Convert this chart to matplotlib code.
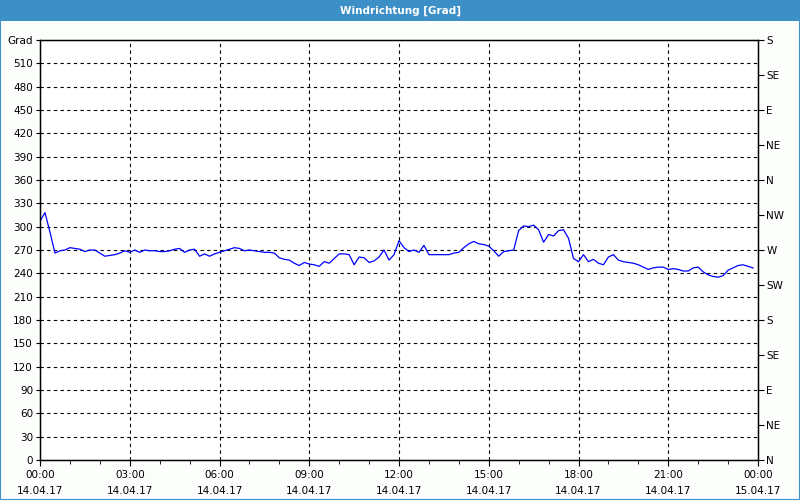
import datetime as dt
import matplotlib
matplotlib.use("Agg")
import matplotlib.pyplot as plt
import matplotlib.dates as mdates
from matplotlib.patches import Rectangle

# wind direction, one value every 10 minutes (14.04.17)
wind_dir = [
    307, 318, 293, 266, 269, 270,
    273, 272, 271, 268, 270, 270,
    266, 262, 263, 264, 266, 269,
    267, 270, 267, 270, 269, 269,
    268, 268, 269, 271, 272, 267,
    270, 271, 262, 265, 262, 265,
    267, 269, 271, 273, 272, 269,
    270, 269, 268, 267, 267, 266,
    260, 258, 257, 253, 250, 254,
    252, 251, 249, 255, 253, 259,
    265, 265, 264, 251, 261, 260,
    254, 256, 261, 270, 257, 264,
    282, 273, 268, 270, 267, 276,
    264, 264, 264, 264, 264, 266,
    267, 273, 278, 281, 278, 277,
    275, 269, 262, 268, 269, 270,
    295, 301, 300, 302, 296, 280,
    290, 288, 295, 296, 285, 259,
    255, 264, 255, 258, 253, 251,
    261, 264, 257, 255, 254, 253,
    251, 248, 245, 247, 248, 248,
    245, 246, 245, 243, 243, 247,
    248, 242, 238, 236, 235, 237,
    244, 247, 250, 251, 249, 247,
]
start = dt.datetime(2017, 4, 14, 0, 0)
times = [start + dt.timedelta(minutes=10 * i) for i in range(len(wind_dir))]

left_ticks = list(range(0, 541, 30))
left_labels = [str(v) for v in left_ticks[:-1]] + ["Grad"]
right_ticks = list(range(0, 541, 45))
right_labels = ["N", "NE", "E", "SE", "S", "SW", "W", "NW", "N", "NE", "E", "SE", "S"]

fs = 7.5
fig = plt.figure(figsize=(8, 5), dpi=100, facecolor="#fcfefc")

# title bar and frame
fig.patches.append(Rectangle((0, 0.958), 1, 0.042, transform=fig.transFigure,
                             facecolor="#3c8fc7", edgecolor="none", zorder=0))
fig.patches.append(Rectangle((0.0006, 0.001), 0.9988, 0.998, transform=fig.transFigure,
                             facecolor="none", edgecolor="#3c8fc7", lw=1.5, zorder=0))
fig.text(0.5, 0.979, "Windrichtung [Grad]", color="white", fontsize=7.5,
         fontweight="bold", ha="center", va="center")

ax = fig.add_axes([0.05, 0.08, 0.8975, 0.84])
ax.set_facecolor("white")
ax.plot(times, wind_dir, color="#0000ff", lw=0.9)

ax.set_ylim(0, 540)
ax.set_xlim(start, start + dt.timedelta(days=1))
ax.set_yticks(left_ticks)
ax.set_yticklabels(left_labels)
ax.xaxis.set_major_locator(mdates.HourLocator(interval=3))
ax.xaxis.set_minor_locator(mdates.HourLocator(interval=1))
ax.xaxis.set_major_formatter(mdates.DateFormatter("%H:%M\n%d.%m.%y"))
ax.tick_params(axis="x", which="major", length=4, labelsize=fs, pad=3)
ax.tick_params(axis="x", which="minor", length=3)
ax.tick_params(axis="y", length=3, labelsize=fs, pad=2)
for lbl in ax.get_xticklabels():
    lbl.set_linespacing(1.75)
ax.grid(True, color="black", linestyle=(0, (3, 3)), lw=0.8)
for sp in ax.spines.values():
    sp.set_color("black")
    sp.set_linewidth(1)

ax2 = ax.twinx()
ax2.set_ylim(0, 540)
ax2.set_yticks(right_ticks)
ax2.set_yticklabels(right_labels)
ax2.tick_params(axis="y", length=4, labelsize=fs, pad=2)

fig.savefig("out.png", dpi=100, facecolor=fig.get_facecolor())
